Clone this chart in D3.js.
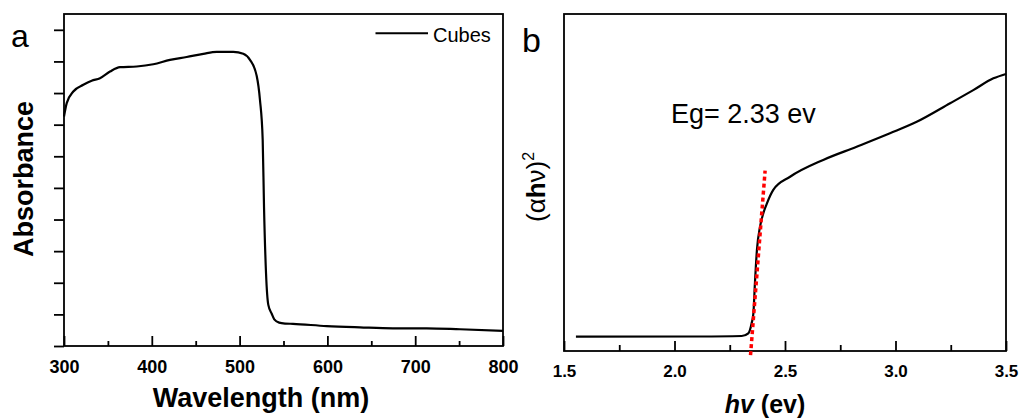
<!DOCTYPE html>
<html>
<head>
<meta charset="utf-8">
<script src="https://cdn.jsdelivr.net/npm/d3@7"></script>
<style>
html,body{margin:0;padding:0;background:#fff;}
svg{display:block;}
text{font-family:"Liberation Sans", Arial, sans-serif; fill:#000;}
</style>
</head>
<body>
<svg id="chart" width="1027" height="419"></svg>
<script>
// ---------- Data ----------
const absWavelength = [300,303.1,310.6,322,331.5,341,352.4,363.8,382.8,401.7,420.7,439.7,458.7,473.9,492.8,504.2,511.8,519.5,523.2,526.3,527.8,530.1,532.7,536.6,539.5,545,552,560.8,599.2,637.1,674.7,713.1,751,800];
const absValue      = [7.26,7.68,8.05,8.26,8.39,8.47,8.68,8.82,8.84,8.91,9.05,9.14,9.24,9.30,9.30,9.24,9.05,8.54,7.78,6.52,4.41,2.30,1.30,1.02,0.84,0.74,0.71,0.70,0.63,0.59,0.56,0.56,0.53,0.48];
const hvEnergy = [1.554,2.115,2.304,2.334,2.349,2.357,2.364,2.373,2.387,2.402,2.417,2.447,2.523,2.673,2.824,2.975,3.096,3.247,3.352,3.443,3.5];
const hvValue  = [4.24,4.30,4.45,5.25,8.22,11.2,20.2,30.0,36.9,40.9,43.6,47.8,51.7,56.7,60.6,64.6,68.0,73.5,77.4,80.9,82.2];
const fitEnergy = [2.344,2.41];
const fitValue  = [-1.2,53.5];
const wlTicks = [300,400,500,600,700,800];
const wlMinor = [350,450,550,650,750];
const absTicks = [0,1,2,3,4,5,6,7,8,9,10];
const evTicks = [1.5,2.0,2.5,3.0,3.5];
const evMinor = [1.75,2.25,2.75,3.25];
const legendLabel = "Cubes";
const egLabel = "Eg= 2.33 ev";

const svg = d3.select("#chart");
const FONT = '"Liberation Sans", Arial, sans-serif';

// ---------- Panel a ----------
const A = {l:64, r:503, t:14, b:346};
const xA = d3.scaleLinear().domain([300,800]).range([A.l, A.r]);
const yA = d3.scaleLinear().domain([0,10.5]).range([A.b, A.t]);

const gA = svg.append("g");
gA.append("g").attr("transform",`translate(0,${A.b})`)
  .call(d3.axisBottom(xA).tickValues(wlMinor).tickSize(-5).tickFormat(""))
  .call(g=>g.select(".domain").remove());
const axA = gA.append("g").attr("transform",`translate(0,${A.b})`)
  .call(d3.axisBottom(xA).tickValues(wlTicks).tickSize(-10).tickPadding(14).tickFormat(d3.format("d")))
  .call(g=>g.select(".domain").remove());
axA.selectAll("text").attr("font-size",18).attr("font-weight","bold").attr("font-family",FONT);
gA.append("g").attr("transform",`translate(${A.l},0)`)
  .call(d3.axisLeft(yA).tickValues(absTicks).tickSize(10).tickFormat(""))
  .call(g=>g.select(".domain").remove());
gA.selectAll(".tick line").attr("stroke","#000").attr("stroke-width",1.8);
gA.append("rect").attr("x",A.l).attr("y",A.t).attr("width",A.r-A.l).attr("height",A.b-A.t)
  .attr("fill","none").attr("stroke","#000").attr("stroke-width",1.8);

gA.append("path").datum(absWavelength.map((d,i)=>[d,absValue[i]]))
  .attr("fill","none").attr("stroke","#000").attr("stroke-width",2.2)
  .attr("d", d3.line().x(d=>xA(d[0])).y(d=>yA(d[1])).curve(d3.curveMonotoneX));

// legend
gA.append("line").attr("x1",375.5).attr("x2",428).attr("y1",33.3).attr("y2",33.3)
  .attr("stroke","#000").attr("stroke-width",2);
gA.append("text").attr("x",433).attr("y",42).attr("font-size",20).text(legendLabel);

gA.append("text").attr("x",11).attr("y",47).attr("font-size",32).text("a");
gA.append("text").attr("x",261).attr("y",407).attr("text-anchor","middle")
  .attr("font-size",27).attr("font-weight","bold").text("Wavelength (nm)");
gA.append("text").attr("transform","translate(33,179) rotate(-90)").attr("text-anchor","middle")
  .attr("font-size",27).attr("font-weight","bold").text("Absorbance");

// ---------- Panel b ----------
const B = {l:564, r:1006, t:14, b:351};
const xB = d3.scaleLinear().domain([1.5,3.5]).range([B.l, B.r]);
const yB = d3.scaleLinear().domain([0,100]).range([B.b, B.t]);

const gB = svg.append("g");
gB.append("g").attr("transform",`translate(0,${B.b})`)
  .call(d3.axisBottom(xB).tickValues(evMinor).tickSize(-6).tickFormat(""))
  .call(g=>g.select(".domain").remove());
const axB = gB.append("g").attr("transform",`translate(0,${B.b})`)
  .call(d3.axisBottom(xB).tickValues(evTicks).tickSize(-10).tickPadding(14).tickFormat(d3.format(".1f")))
  .call(g=>g.select(".domain").remove());
axB.selectAll("text").attr("font-size",17).attr("font-weight","bold").attr("font-family",FONT);
gB.selectAll(".tick line").attr("stroke","#000").attr("stroke-width",1.8);
gB.append("rect").attr("x",B.l).attr("y",B.t).attr("width",B.r-B.l).attr("height",B.b-B.t)
  .attr("fill","none").attr("stroke","#000").attr("stroke-width",1.8);

gB.append("path").datum(hvEnergy.map((d,i)=>[d,hvValue[i]]))
  .attr("fill","none").attr("stroke","#000").attr("stroke-width",2.2)
  .attr("d", d3.line().x(d=>xB(d[0])).y(d=>yB(d[1])).curve(d3.curveMonotoneX));

gB.append("path").datum(fitEnergy.map((d,i)=>[d,fitValue[i]]))
  .attr("fill","none").attr("stroke","#ff0000").attr("stroke-width",3.5)
  .attr("stroke-dasharray","4,3")
  .attr("d", d3.line().x(d=>xB(d[0])).y(d=>yB(d[1])));

gB.append("text").attr("x",522).attr("y",52).attr("font-size",34).text("b");
gB.append("text").attr("x",671).attr("y",123).attr("font-size",27).text(egLabel);

const xl = gB.append("text").attr("x",765).attr("y",413).attr("text-anchor","middle")
  .attr("font-size",25).attr("font-weight","bold");
xl.append("tspan").attr("font-style","italic").text("hv");
xl.append("tspan").text(" (ev)");

const yl = gB.append("text").attr("transform","translate(545,222) rotate(-90)")
  .attr("font-size",26);
yl.append("tspan").text("(\u03B1");
yl.append("tspan").attr("font-weight","bold").text("h");
yl.append("tspan").text("\u03BD)");
yl.append("tspan").attr("font-size",16).attr("dy",-11).text("2");
</script>
</body>
</html>
